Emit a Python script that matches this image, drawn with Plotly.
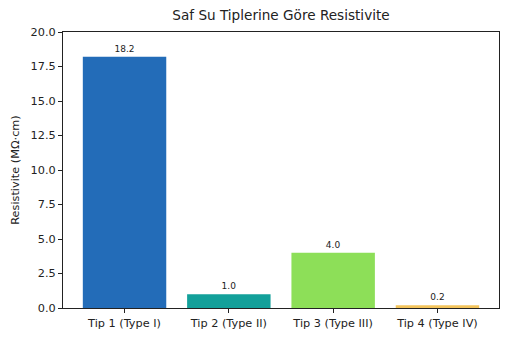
import plotly.graph_objects as go

categories = ["Tip 1 (Type I)", "Tip 2 (Type II)", "Tip 3 (Type III)", "Tip 4 (Type IV)"]
values = [18.2, 1.0, 4.0, 0.2]
colors = ["#236cb8", "#13a09a", "#8ddf58", "#f3c45c"]
yticks = [0.0, 2.5, 5.0, 7.5, 10.0, 12.5, 15.0, 17.5, 20.0]

font = "DejaVu Sans"
fig = go.Figure(go.Bar(
    x=categories, y=values, width=0.8,
    marker=dict(color=colors, line=dict(width=0)),
    text=[f"{v:.1f}" for v in values], textposition="outside",
    textfont=dict(family=font, size=9, color="#222222"),
    cliponaxis=False,
))
fig.update_layout(
    width=512, height=341,
    margin=dict(l=63, r=13, t=32, b=33),
    paper_bgcolor="white", plot_bgcolor="white",
    font=dict(family=font, size=11.3, color="#222222"),
    title=dict(text="Saf Su Tiplerine Göre Resistivite", x=0.5, xanchor="center",
               xref="paper", y=1, yref="container", yanchor="top", pad=dict(t=10),
               font=dict(family=font, size=13.6, color="#222222")),
    showlegend=False,
    bargap=0.2,
)
fig.update_xaxes(range=[-0.59, 3.59], showline=True, linecolor="#222222", linewidth=1,
                 mirror=True, ticks="outside", ticklen=4, tickcolor="#222222",
                 showgrid=False, tickfont=dict(size=11.3))
fig.update_yaxes(range=[0, 20], tickvals=yticks, ticktext=[f"{t:.1f}" for t in yticks],
                 showline=True, linecolor="#222222", linewidth=1, mirror=True,
                 ticks="outside", ticklen=4, tickcolor="#222222", showgrid=False,
                 zeroline=False, tickfont=dict(size=11.3),
                 title=dict(text="Resistivite (MΩ·cm)", font=dict(size=11.3), standoff=8))
fig.write_html("out.html")
